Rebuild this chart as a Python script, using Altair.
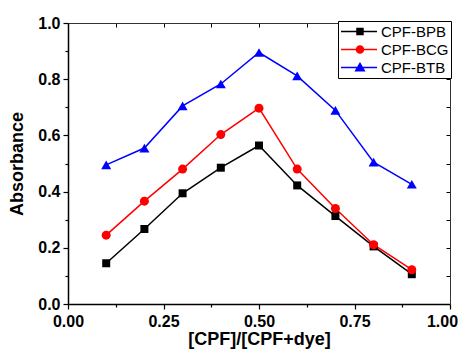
import altair as alt
import pandas as pd

x_vals = [0.1, 0.2, 0.3, 0.4, 0.5, 0.6, 0.7, 0.8, 0.9]
bpb = [0.145, 0.267, 0.394, 0.485, 0.564, 0.422, 0.313, 0.205, 0.106]
bcg = [0.245, 0.366, 0.480, 0.603, 0.697, 0.480, 0.340, 0.211, 0.122]
btb = [0.495, 0.555, 0.705, 0.783, 0.895, 0.812, 0.689, 0.505, 0.426]
series = ["CPF-BPB", "CPF-BCG", "CPF-BTB"]
colors = ["#000000", "#FF0000", "#0000FF"]
shapes = ["square", "circle", "triangle-up"]
sizes = [64, 81, 100]

x_major = [0, 0.25, 0.5, 0.75, 1.0]
x_minor = [0.125, 0.375, 0.625, 0.875]
y_major = [0, 0.2, 0.4, 0.6, 0.8, 1.0]
y_minor = [0.1, 0.3, 0.5, 0.7, 0.9]

rows = []
for name, vals in zip(series, [bpb, bcg, btb]):
    for xv, yv in zip(x_vals, vals):
        rows.append({"x": xv, "y": yv, "series": name})
df = pd.DataFrame(rows)

W, H = 382, 281
FONT = "Liberation Sans"

# legend symbol paths (line + marker), unit = sqrt(symbolSize)/2
line_p = "M-1,0H3.8"
p_sq = line_p + "M1.13,-0.4H1.93V0.4H1.13Z"
p_ci = line_p + "M1.06,0A0.47,0.47 0 1,0 2.0,0A0.47,0.47 0 1,0 1.06,0Z"
p_tr = line_p + "M1.53,-0.55L2.1,0.42H0.96Z"
shape_expr = ("datum.value === 'CPF-BPB' ? '%s' : datum.value === 'CPF-BCG' ? '%s' : '%s'"
              % (p_sq, p_ci, p_tr))
col_expr = "scale('color', datum.value)"

xscale = alt.Scale(domain=[0, 1], nice=False)
yscale = alt.Scale(domain=[0, 1], nice=False)
cscale = alt.Scale(domain=series, range=colors)

base = alt.Chart(df)

lines = base.mark_line(strokeWidth=1.5).encode(
    x=alt.X("x:Q", scale=xscale, axis=alt.Axis(
        orient="bottom", values=x_major, format=".2f", tickSize=5, tickWidth=1.2,
        domainWidth=1.5, title="[CPF]/[CPF+dye]", labelPadding=4, titlePadding=1,
        labelOffset={"condition": {"test": "datum.value === 1", "value": -8}, "value": 0},
        labelFlush=False, labelOverlap=False, grid=False)),
    y=alt.Y("y:Q", scale=yscale, axis=alt.Axis(
        orient="left", values=y_major, format=".1f", tickSize=5, tickWidth=1.2,
        domainWidth=1.5, title="Absorbance", labelPadding=3, titlePadding=11,
        labelFlush=False, labelOverlap=False, grid=False)),
    color=alt.Color("series:N", scale=cscale, legend=alt.Legend(
        title=None, orient="none", legendX=270, legendY=-2,
        symbolType=alt.ExprRef(expr=shape_expr), symbolSize=225,
        symbolStrokeWidth=1.5,
        symbolFillColor=alt.ExprRef(expr=col_expr),
        symbolStrokeColor=alt.ExprRef(expr=col_expr),
        labelFont=FONT, labelFontSize=15, labelFontWeight="normal",
        labelColor="black", labelOffset=24, padding=2, rowPadding=1,
        strokeColor="black", fillColor="white", labelLimit=200)),
    detail="series:N",
)

point_layers = []
for i, (name, col, shp, sz) in enumerate(zip(series, colors, shapes, sizes)):
    if i == 0:
        xenc = alt.X("x:Q", scale=xscale, axis=alt.Axis(
            orient="bottom", values=x_minor, labels=False, domain=False, tickSize=3,
            tickWidth=1.2, title=None, grid=False))
        yenc = alt.Y("y:Q", scale=yscale, axis=alt.Axis(
            orient="left", values=y_minor, labels=False, domain=False, tickSize=3,
            tickWidth=1.2, title=None, grid=False))
    else:
        xenc = alt.X("x:Q", scale=xscale, axis=None)
        yenc = alt.Y("y:Q", scale=yscale, axis=None)
    point_layers.append(
        base.transform_filter(alt.datum.series == name)
        .mark_point(filled=True, opacity=1, shape=shp, size=sz, color=col)
        .encode(x=xenc, y=yenc)
    )

frame = base.mark_point(opacity=0).encode(
    x=alt.X("x:Q", scale=xscale, axis=alt.Axis(
        orient="bottom", offset=-H, values=x_major + x_minor, labels=False,
        tickSize=4, domainColor="#333333", domainWidth=1, title=None, grid=False)),
    y=alt.Y("y:Q", scale=yscale, axis=alt.Axis(
        orient="left", offset=-W, values=y_major + y_minor, labels=False,
        tickSize=4, domainColor="#333333", domainWidth=1, title=None, grid=False)),
)

chart = alt.layer(lines, *point_layers, frame).resolve_axis(
    x="independent", y="independent"
).properties(
    width=W, height=H,
    autosize=alt.AutoSizeParams(type="none"),
    padding={"left": 60, "top": 15, "right": 8, "bottom": 47},
).configure_view(stroke=None).configure_axis(
    labelFont=FONT, labelFontSize=16, labelFontWeight="bold", labelColor="black",
    titleFont=FONT, titleFontSize=18, titleFontWeight="bold", titleColor="black",
    tickColor="black", domainColor="black",
)

chart.save("out.html", embed_options={"renderer": "svg", "actions": False})
